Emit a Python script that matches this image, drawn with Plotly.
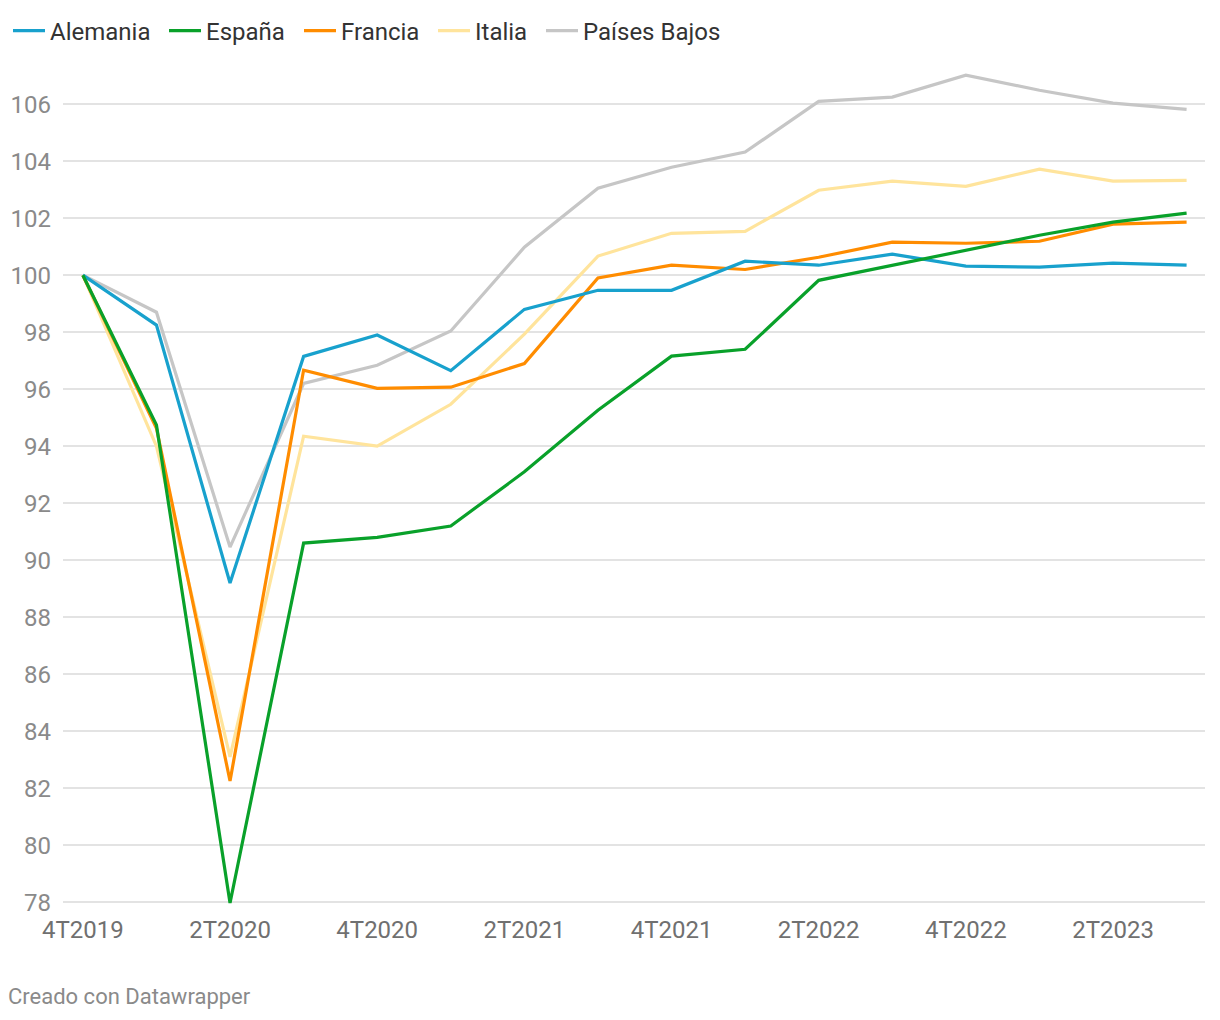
import plotly.graph_objects as go

quarters = ["4T2019", "1T2020", "2T2020", "3T2020", "4T2020", "1T2021", "2T2021", "3T2021",
            "4T2021", "1T2022", "2T2022", "3T2022", "4T2022", "1T2023", "2T2023", "3T2023"]

alemania = [100, 98.25, 89.2, 97.15, 97.9, 96.65, 98.8, 99.47, 99.47, 100.49, 100.35, 100.74,
            100.32, 100.28, 100.42, 100.35]
espana = [100, 94.74, 77.97, 90.6, 90.8, 91.2, 93.1, 95.26, 97.16, 97.4, 99.82, 100.35,
          100.88, 101.4, 101.86, 102.18]
francia = [100, 94.63, 82.25, 96.67, 96.03, 96.07, 96.9, 99.9, 100.35, 100.2, 100.63, 101.16,
           101.12, 101.19, 101.79, 101.86]
italia = [100, 94.0, 83.1, 94.35, 94.0, 95.47, 97.93, 100.67, 101.47, 101.54, 102.98, 103.3,
          103.12, 103.72, 103.3, 103.33]
paises_bajos = [100, 98.7, 90.46, 96.2, 96.84, 98.04, 100.98, 103.05, 103.79, 104.32, 106.1,
                106.25, 107.02, 106.49, 106.04, 105.82]

series_names = ["Alemania", "España", "Francia", "Italia", "Países Bajos"]
series_values = [alemania, espana, francia, italia, paises_bajos]
series_colors = ["#18a1cd", "#09a12a", "#ff8c00", "#ffe49c", "#c6c6c6"]

tick_vals = quarters[::2]
y_ticks = list(range(78, 107, 2))

# layout geometry (pixels)
W, H = 1220, 1020
ML, MR, MT, MB = 63, 15, 70, 115
PW = W - ML - MR
legend_px = [8, 164, 299, 433, 541]

fig = go.Figure()
legend_ids = ["legend", "legend2", "legend3", "legend4", "legend5"]
# draw order: back to front
draw_order = [4, 3, 2, 0, 1]
for i in draw_order:
    fig.add_trace(go.Scatter(
        x=quarters, y=series_values[i], name=series_names[i], mode="lines",
        line=dict(color=series_colors[i], width=3.2),
        legend=legend_ids[i],
    ))

legend_layout = {}
for i, lid in enumerate(legend_ids):
    legend_layout[lid] = dict(
        orientation="h", x=(legend_px[i] - ML) / PW, xanchor="left",
        y=1 + (MT - 31) / (H - MT - MB), yanchor="middle",
        font=dict(family="Roboto", size=24, color="#333333"), itemwidth=32,
        bgcolor="rgba(0,0,0,0)", borderwidth=0,
    )

fig.update_layout(
    width=W, height=H,
    margin=dict(l=ML, r=MR, t=MT, b=MB, autoexpand=False),
    paper_bgcolor="white", plot_bgcolor="white",
    font=dict(family="Roboto", size=24, color="#333333"),
    showlegend=True,
    xaxis=dict(type="category", tickmode="array", tickvals=tick_vals, ticktext=tick_vals,
               range=[-0.27, 15.25], showgrid=False, zeroline=False, showline=False,
               automargin=False,
               ticks="", tickfont=dict(size=24, color="#707070"), ticklabelstandoff=8),
    yaxis=dict(range=[77.9, 107.2], tickvals=y_ticks, showgrid=True, gridcolor="#e3e3e3",
               gridwidth=1.5, zeroline=False, showline=False, ticks="", automargin=False,
               tickfont=dict(size=24, color="#8a8a8a"), ticklabelstandoff=11),
    annotations=[dict(text="Creado con Datawrapper", xref="paper", yref="paper",
                      x=-0.050, y=-0.110, xanchor="left", yanchor="middle", showarrow=False,
                      font=dict(size=22, color="#8a8a8a"))],
    **legend_layout,
)

fig.write_html("out.html")
